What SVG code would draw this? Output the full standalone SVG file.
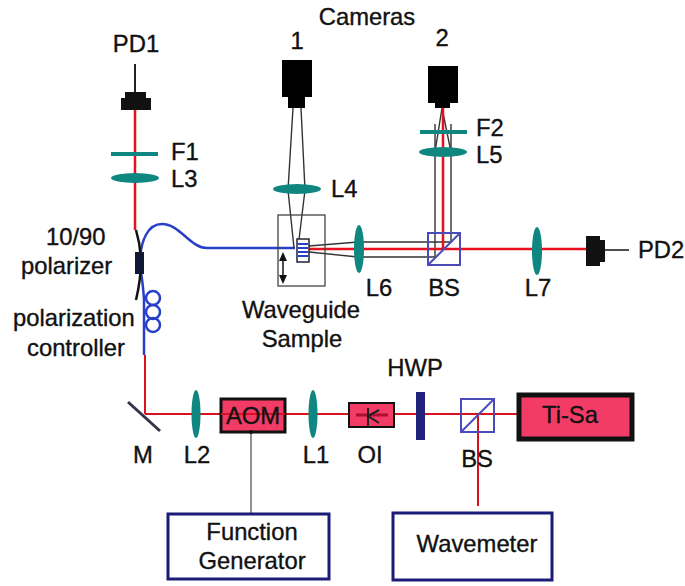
<svg xmlns="http://www.w3.org/2000/svg" width="685" height="586" viewBox="0 0 685 586">
<style>
text{font-family:"Liberation Sans",Arial,sans-serif;font-size:23.8px;fill:#111;stroke:#111;stroke-width:.35}
.m{text-anchor:middle}
.lens{fill:#0f8780}
.red{stroke:#e8101e;stroke-width:2.5;fill:none}
.dred{stroke:#d81020;stroke-width:2;fill:none}
.blue{stroke:#2a3fc8;stroke-width:2.5;fill:none}
.gray{stroke:#333;stroke-width:1.4;fill:none}
.cube{fill:none;stroke:#4a4ab8;stroke-width:2}
.box{fill:#fff;stroke:#1c1c78;stroke-width:3}
.pink{fill:#f23c66;stroke:#111}
</style>
<rect width="685" height="586" fill="#fff"/>
<g id="connectors">
<path class="red" d="M135 105V230"/>
<path class="dred" d="M145 355V414M145 414H517"/>
<path class="blue" d="M144 355V300C143 280 140 270 140 260C141 240 148 224 162 224C180 224 190 248 207 248H295"/>
<path class="gray" d="M293 108L288 190L294 248M301 108L305 190L298 248"/>
<path class="gray" d="M309 246L358 242H451V124M309 252L358 257H435V124"/>
<path class="gray" d="M442 108L435 152M442 108L451 152"/>
<path class="red" d="M309 249H590M443 249V108"/>
<path class="dred" d="M478 414V506"/>
<path d="M251 432V514" stroke="#555" stroke-width="1.3" fill="none"/>
<path d="M135 64V92" stroke="#222" stroke-width="2" fill="none"/>
<path d="M604 250H629" stroke="#222" stroke-width="1.6" fill="none"/>
</g>
<g id="PD1"><rect x="121" y="98" width="30" height="12" fill="#111"/><rect x="125" y="92" width="21" height="6" fill="#111"/><text x="136" y="52" class="m">PD1</text></g>
<g id="F1"><rect x="111" y="152" width="47" height="4" class="lens"/><text x="171" y="160">F1</text></g>
<g id="L3"><ellipse cx="135" cy="178" rx="24" ry="5" class="lens"/><text x="171" y="187">L3</text></g>
<g id="polarizer"><path d="M136 230C142 250 143 270 136 300" fill="none" stroke="#111" stroke-width="2.500"/><rect x="135" y="252" width="9" height="22" fill="#111833"/><text x="46" y="245">10/90</text><text x="21" y="274">polarizer</text></g>
<g id="polarization-controller"><circle cx="153" cy="298" r="7" fill="none" stroke="#2a3fc8" stroke-width="2.5"/><circle cx="153" cy="312" r="7" fill="none" stroke="#2a3fc8" stroke-width="2.5"/><circle cx="153" cy="325" r="7" fill="none" stroke="#2a3fc8" stroke-width="2.5"/><text x="13" y="326">polarization</text><text x="27" y="356">controller</text></g>
<g id="camera1"><rect x="282" y="60" width="30" height="37" fill="#000"/><rect x="288" y="96" width="17" height="12" fill="#000"/><text x="297" y="49" class="m">1</text></g>
<g id="camera2"><rect x="428" y="66" width="30" height="37" fill="#000"/><rect x="435" y="102" width="15" height="6" fill="#000"/><text x="442" y="46" class="m">2</text></g>
<text x="367" y="25" class="m">Cameras</text>
<g id="L4"><ellipse cx="297" cy="189" rx="24" ry="5" class="lens"/><text x="331" y="197">L4</text></g>
<g id="F2"><rect x="420" y="130" width="47" height="4" class="lens"/><text x="476" y="136">F2</text></g>
<g id="L5"><ellipse cx="443" cy="152" rx="24" ry="5" class="lens"/><text x="476" y="163">L5</text></g>
<g id="waveguide-sample"><rect x="278" y="215" width="47" height="71" fill="none" stroke="#444" stroke-width="1.3"/><rect x="297" y="239" width="12" height="23" fill="#fff" stroke="#223" stroke-width="1.5"/><path d="M298 244H308M298 248H308M298 252H308M298 256H308" stroke="#2a3fc8" stroke-width="2"/><path d="M283 255V281" stroke="#111" stroke-width="1.5"/><path d="M283 252L279 261H287ZM283 284L279 275H287Z" fill="#111"/><text x="301" y="318" class="m">Waveguide</text><text x="302" y="347" class="m">Sample</text></g>
<g id="L6"><ellipse cx="359" cy="249" rx="5" ry="24" class="lens"/><text x="379" y="296" class="m">L6</text></g>
<g id="BS1"><rect x="428" y="233" width="32" height="32" class="cube"/><path d="M428 265L460 233" class="cube"/><text x="444" y="296" class="m">BS</text></g>
<g id="L7"><ellipse cx="537" cy="251" rx="5" ry="24" class="lens"/><text x="538" y="296" class="m">L7</text></g>
<g id="PD2"><rect x="586" y="236" width="14" height="30" fill="#111"/><rect x="599" y="240" width="6" height="22" fill="#111"/><text x="638" y="258">PD2</text></g>
<g id="M"><path d="M128 402L160 431" stroke="#33334a" stroke-width="3"/><text x="143" y="463" class="m">M</text></g>
<g id="L2"><ellipse cx="196" cy="414" rx="4.500" ry="24" class="lens"/><text x="197" y="463" class="m">L2</text></g>
<g id="AOM"><rect x="221" y="399" width="64" height="33" class="pink" stroke-width="3"/><path d="M221 414H285" class="dred"/><text x="253" y="424" class="m">AOM</text><circle cx="251" cy="432" r="2" fill="#111"/></g>
<g id="L1"><ellipse cx="313" cy="414" rx="4.500" ry="24" class="lens"/><text x="316" y="463" class="m">L1</text></g>
<g id="OI"><rect x="349" y="403" width="45" height="24" class="pink" stroke-width="2"/><path d="M356 415H388" stroke="#b01030" stroke-width="3"/><path d="M368 408V427M379 410L368 416L379 423" stroke="#222" stroke-width="2" fill="none"/><text x="370" y="463" class="m">OI</text></g>
<g id="HWP"><rect x="416" y="392" width="9" height="48" fill="#22227a"/><text x="415" y="376" class="m">HWP</text></g>
<g id="BS2"><rect x="461" y="399" width="33" height="33" class="cube"/><path d="M461 432L494 399" class="cube"/><text x="477" y="467" class="m">BS</text></g>
<g id="Ti-Sa"><rect x="519" y="395" width="113" height="44" class="pink" stroke-width="5"/><text x="570" y="423" class="m">Ti-Sa</text></g>
<g id="function-generator"><rect x="168" y="514" width="161" height="65" class="box"/><text x="252" y="540" class="m">Function</text><text x="252" y="569" class="m">Generator</text></g>
<g id="wavemeter"><rect x="393" y="513" width="159" height="67" class="box"/><text x="477" y="552" class="m">Wavemeter</text></g>
</svg>
